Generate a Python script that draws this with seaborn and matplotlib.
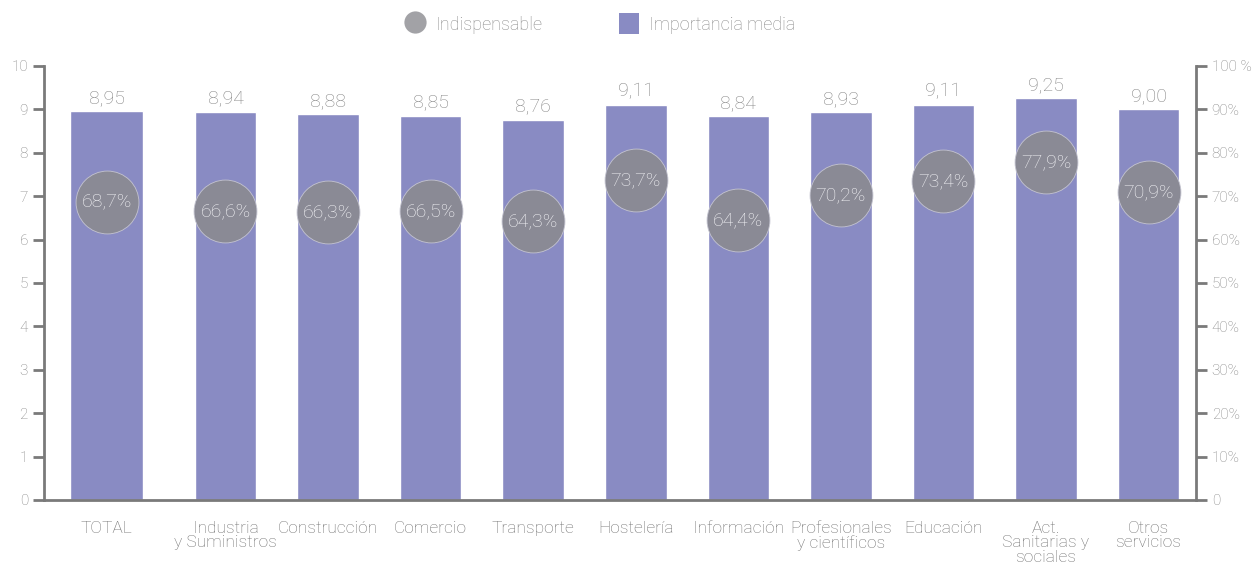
import matplotlib.pyplot as plt
from matplotlib.lines import Line2D
from matplotlib.patches import Patch
import seaborn as sns
import pandas as pd

categories = ['TOTAL', 'Industria\ny Suministros', 'Construcción', 'Comercio',
              'Transporte', 'Hostelería', 'Información',
              'Profesionales\ny científicos', 'Educación',
              'Act.\nSanitarias y\nsociales', 'Otros\nservicios']
importancia = [8.95, 8.94, 8.88, 8.85, 8.76, 9.11, 8.84, 8.93, 9.11, 9.25, 9.00]
indispensable = [68.7, 66.6, 66.3, 66.5, 64.3, 73.7, 64.4, 70.2, 73.4, 77.9, 70.9]

left_ticks = list(range(0, 11))
right_ticks = list(range(0, 101, 10))
right_labels = ['0'] + [f'{v}%' for v in right_ticks[1:-1]] + ['100 %']

BAR = '#898bc3'
DOT = '#8a8a95'
GREY_TXT = '#858585'
AXIS = '#7a7a7a'
XLIM = (-0.77, 10.46)
TOTAL_SHIFT = -0.16  # TOTAL sits apart from the rest


def main():
    sns.set_theme(style='white')
    plt.rcParams['font.family'] = ['Roboto', 'DejaVu Sans']
    plt.rcParams['font.weight'] = 'light'

    df = pd.DataFrame({'cat': categories, 'imp': importancia, 'ind': indispensable})

    fig = plt.figure(figsize=(12.56, 5.63), dpi=100)
    ax = fig.add_axes([0.035, 0.112, 0.917, 0.771])

    sns.barplot(data=df, x='cat', y='imp', color=BAR, saturation=1,
                width=0.6, ax=ax)
    p0 = ax.patches[0]
    p0.set_x(p0.get_x() + TOTAL_SHIFT - 0.06)
    p0.set_width(p0.get_width() + 0.12)

    xpos = [i + (TOTAL_SHIFT if i == 0 else 0) for i in range(len(categories))]

    ax.set_ylim(0, 10)
    ax.set_xlim(*XLIM)
    ax.set_yticks(left_ticks)
    ax.set_xticks(xpos, categories)
    ax.set_xlabel('')
    ax.set_ylabel('')
    for x, v in zip(xpos, importancia):
        ax.text(x, v + 0.1, f'{v:.2f}'.replace('.', ','), ha='center',
                va='bottom', fontsize=14, color=GREY_TXT)

    ax2 = ax.twinx()
    sns.scatterplot(data=df, x='cat', y='ind', s=2050, color=DOT,
                    edgecolor='#c4c4d0', linewidth=0.6, ax=ax2, zorder=3)
    offs = ax2.collections[0].get_offsets()
    offs[0, 0] += TOTAL_SHIFT
    ax2.collections[0].set_offsets(offs)
    ax2.set_ylim(0, 100)
    ax2.set_xlim(*XLIM)
    ax2.set_yticks(right_ticks)
    ax2.set_yticklabels(right_labels)
    ax2.set_ylabel('')
    for x, v in zip(xpos, indispensable):
        ax2.text(x, v, f'{v:.1f}%'.replace('.', ','), ha='center', va='center',
                 fontsize=14, color='#f4f4f7', zorder=4)

    for a in (ax, ax2):
        for s in a.spines.values():
            s.set_visible(False)
        a.tick_params(axis='y', colors=AXIS, labelcolor=GREY_TXT, labelsize=11,
                      length=8, width=2, direction='out')
    ax.spines['left'].set_visible(True)
    ax.spines['bottom'].set_visible(True)
    ax2.spines['right'].set_visible(True)
    for s in (ax.spines['left'], ax.spines['bottom'], ax2.spines['right']):
        s.set_color(AXIS)
        s.set_linewidth(2)
    ax.tick_params(axis='x', length=0, labelsize=12.5, labelcolor='#707070', pad=15)
    for t in ax.get_xticklabels():
        t.set_linespacing(0.95)
        t.set_va('top')

    handles = [Line2D([], [], marker='o', linestyle='', markersize=16,
                      markerfacecolor='#a2a2a6', markeredgecolor='none'),
               Patch(facecolor=BAR, edgecolor='none')]
    fig.legend(handles, ['Indispensable', 'Importancia media'], loc='upper center',
               bbox_to_anchor=(0.478, 1.005), ncol=2, frameon=False, fontsize=13,
               labelcolor='#8a8a8a', handlelength=1.1, handleheight=1.4,
               columnspacing=4.2, handletextpad=0.6)

    fig.savefig('out.png', dpi=100)


if __name__ == '__main__':
    main()
